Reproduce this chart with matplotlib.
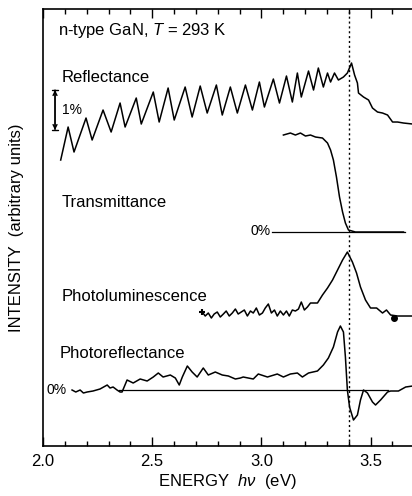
import matplotlib
matplotlib.use('Agg')
import matplotlib.pyplot as plt
from matplotlib.ticker import MultipleLocator

plt.rcParams['font.family'] = ['Liberation Sans', 'DejaVu Sans']
plt.rcParams['mathtext.fontset'] = 'custom'
plt.rcParams['mathtext.rm'] = 'Liberation Sans'
plt.rcParams['mathtext.it'] = 'Liberation Sans:italic'

# Reflectance (energy eV, arbitrary offset units)
refl_e = [2.081, 2.115, 2.142, 2.197, 2.225, 2.275, 2.312, 2.353, 2.376, 2.427,
          2.450, 2.505, 2.532, 2.573, 2.601, 2.651, 2.683, 2.720, 2.752, 2.794,
          2.821, 2.858, 2.890, 2.927, 2.959, 2.991, 3.014, 3.055, 3.083, 3.115,
          3.142, 3.165, 3.183, 3.216, 3.239, 3.261, 3.284, 3.303, 3.317, 3.335,
          3.353, 3.376, 3.394, 3.413, 3.427, 3.440, 3.445, 3.468, 3.491, 3.509,
          3.532, 3.555, 3.578, 3.601, 3.624, 3.651, 3.693]
refl_v = [286, 319, 294, 328, 306, 336, 314, 343, 319, 348,
          322, 354, 324, 358, 326, 359, 329, 360, 333, 361,
          331, 359, 333, 361, 336, 364, 339, 367, 343, 370,
          344, 373, 349, 375, 356, 378, 359, 373, 364, 373,
          366, 369, 373, 383, 371, 363, 353, 349, 346, 338,
          334, 333, 331, 324, 324, 323, 322]

# Transmittance
trans_e = [3.101, 3.133, 3.156, 3.179, 3.202, 3.225, 3.248, 3.280, 3.303, 3.317,
           3.330, 3.344, 3.358, 3.372, 3.385, 3.399, 3.431, 3.651]
trans_v = [311, 313, 311, 313, 310, 311, 309, 308, 303, 296,
           286, 269, 249, 234, 223, 216, 214, 214]
trans_zero = 214

# Photoluminescence
pl_e = [2.729, 2.743, 2.757, 2.771, 2.784, 2.798, 2.812, 2.826, 2.839, 2.853,
        2.867, 2.881, 2.894, 2.908, 2.922, 2.936, 2.950, 2.963, 2.977, 2.991,
        3.005, 3.018, 3.032, 3.046, 3.060, 3.073, 3.087, 3.101, 3.115, 3.128,
        3.142, 3.156, 3.170, 3.183, 3.197, 3.211, 3.225, 3.239, 3.257, 3.280,
        3.303, 3.326, 3.349, 3.372, 3.394, 3.417, 3.436, 3.454, 3.477, 3.500,
        3.528, 3.555, 3.573, 3.592, 3.624, 3.656, 3.693]
pl_v = [134, 130, 133, 128, 132, 134, 129, 132, 135, 130,
        133, 137, 132, 134, 136, 130, 135, 133, 138, 131,
        133, 138, 142, 133, 136, 130, 135, 131, 135, 130,
        136, 135, 137, 144, 136, 139, 143, 143, 143, 151,
        158, 166, 176, 186, 194, 184, 173, 159, 146, 138,
        138, 133, 136, 131, 130, 130, 130]

# Photoreflectance
pr_e = [2.133, 2.150, 2.170, 2.185, 2.202, 2.229, 2.261, 2.294, 2.307, 2.321,
        2.339, 2.353, 2.362, 2.385, 2.413, 2.445, 2.477, 2.505, 2.528, 2.550,
        2.583, 2.606, 2.624, 2.638, 2.661, 2.683, 2.706, 2.734, 2.757, 2.789,
        2.821, 2.849, 2.881, 2.904, 2.917, 2.963, 2.986, 3.028, 3.073, 3.101,
        3.133, 3.165, 3.188, 3.216, 3.257, 3.284, 3.307, 3.330, 3.349, 3.362,
        3.376, 3.385, 3.394, 3.404, 3.422, 3.440, 3.454, 3.468, 3.486, 3.509,
        3.523, 3.546, 3.578, 3.592, 3.628, 3.661, 3.693]
pr_v = [56, 54, 56, 53, 54, 55, 57, 61, 58, 59,
        56, 54, 54, 66, 63, 67, 65, 69, 73, 69,
        71, 68, 61, 69, 80, 74, 69, 78, 71, 74,
        71, 70, 67, 68, 69, 67, 72, 69, 72, 69,
        72, 73, 69, 73, 75, 81, 88, 99, 114, 120,
        114, 89, 56, 39, 26, 31, 46, 56, 53, 44,
        41, 46, 54, 55, 55, 59, 60]
pr_zero = 56

fig = plt.figure(figsize=(4.12, 4.96), dpi=100)
ax = fig.add_axes([0.1044, 0.1008, 0.8956, 0.881])

lw = 1.1
ax.plot(refl_e, refl_v, color='black', lw=lw)
ax.plot(trans_e, trans_v, color='black', lw=lw)
ax.plot([3.05, 3.66], [trans_zero, trans_zero], color='black', lw=0.9)
ax.plot(pl_e, pl_v, color='black', lw=lw)
ax.plot([3.606], [128], 'o', color='black', ms=4)
ax.plot([2.729], [134], '+', color='black', ms=5, mew=1.5)
ax.plot(pr_e, pr_v, color='black', lw=lw)
ax.plot([2.35, 3.58], [pr_zero, pr_zero], color='black', lw=0.9)

ax.axvline(3.40, color='black', lw=1.0, ls=(0, (1.5, 2)))

fs = 12
ax.text(2.069, 416, 'n-type GaN, $T$ = 293 K', fontsize=fs, va='center')
ax.text(2.083, 369, 'Reflectance', fontsize=fs, va='center')
ax.text(2.083, 244, 'Transmittance', fontsize=fs, va='center')
ax.text(2.083, 150, 'Photoluminescence', fontsize=fs, va='center')
ax.text(2.078, 93, 'Photoreflectance', fontsize=fs, va='center')
ax.text(3.041, 215, '0%', fontsize=10, va='center', ha='right')
ax.text(2.014, 56, '0%', fontsize=10, va='center', ha='left')
ax.text(2.087, 336, '1%', fontsize=10, va='center', ha='left')

# 1% scale bar
ax.annotate('', xy=(2.055, 356), xytext=(2.055, 316),
            arrowprops=dict(arrowstyle='<->', color='black', lw=1, mutation_scale=7,
                            shrinkA=0, shrinkB=0))
ax.annotate('', xy=(2.055, 356), xytext=(2.055, 316),
            arrowprops=dict(arrowstyle='|-|', color='black', lw=1, mutation_scale=2.5,
                            shrinkA=0, shrinkB=0))

ax.set_xlim(2.0, 3.69)
ax.set_ylim(0, 437)
ax.xaxis.set_major_locator(MultipleLocator(0.5))
ax.xaxis.set_minor_locator(MultipleLocator(0.1))
ax.tick_params(axis='x', which='both', direction='in', top=True, labelsize=fs, pad=6)
ax.tick_params(axis='x', which='major', length=6.5, width=1)
ax.tick_params(axis='x', which='minor', length=3.5, width=1)
ax.set_xticks([2.0, 2.5, 3.0, 3.5])
ax.set_xticklabels(['2.0', '2.5', '3.0', '3.5'])
ax.set_yticks([])
ax.spines['right'].set_visible(False)
for s in ['left', 'top', 'bottom']:
    ax.spines[s].set_linewidth(1.2)

ax.set_xlabel('ENERGY  $h\\nu$  (eV)', fontsize=fs, labelpad=2)
ax.set_ylabel('INTENSITY  (arbitrary units)', fontsize=fs, labelpad=14)

fig.savefig('out.png', dpi=100)
